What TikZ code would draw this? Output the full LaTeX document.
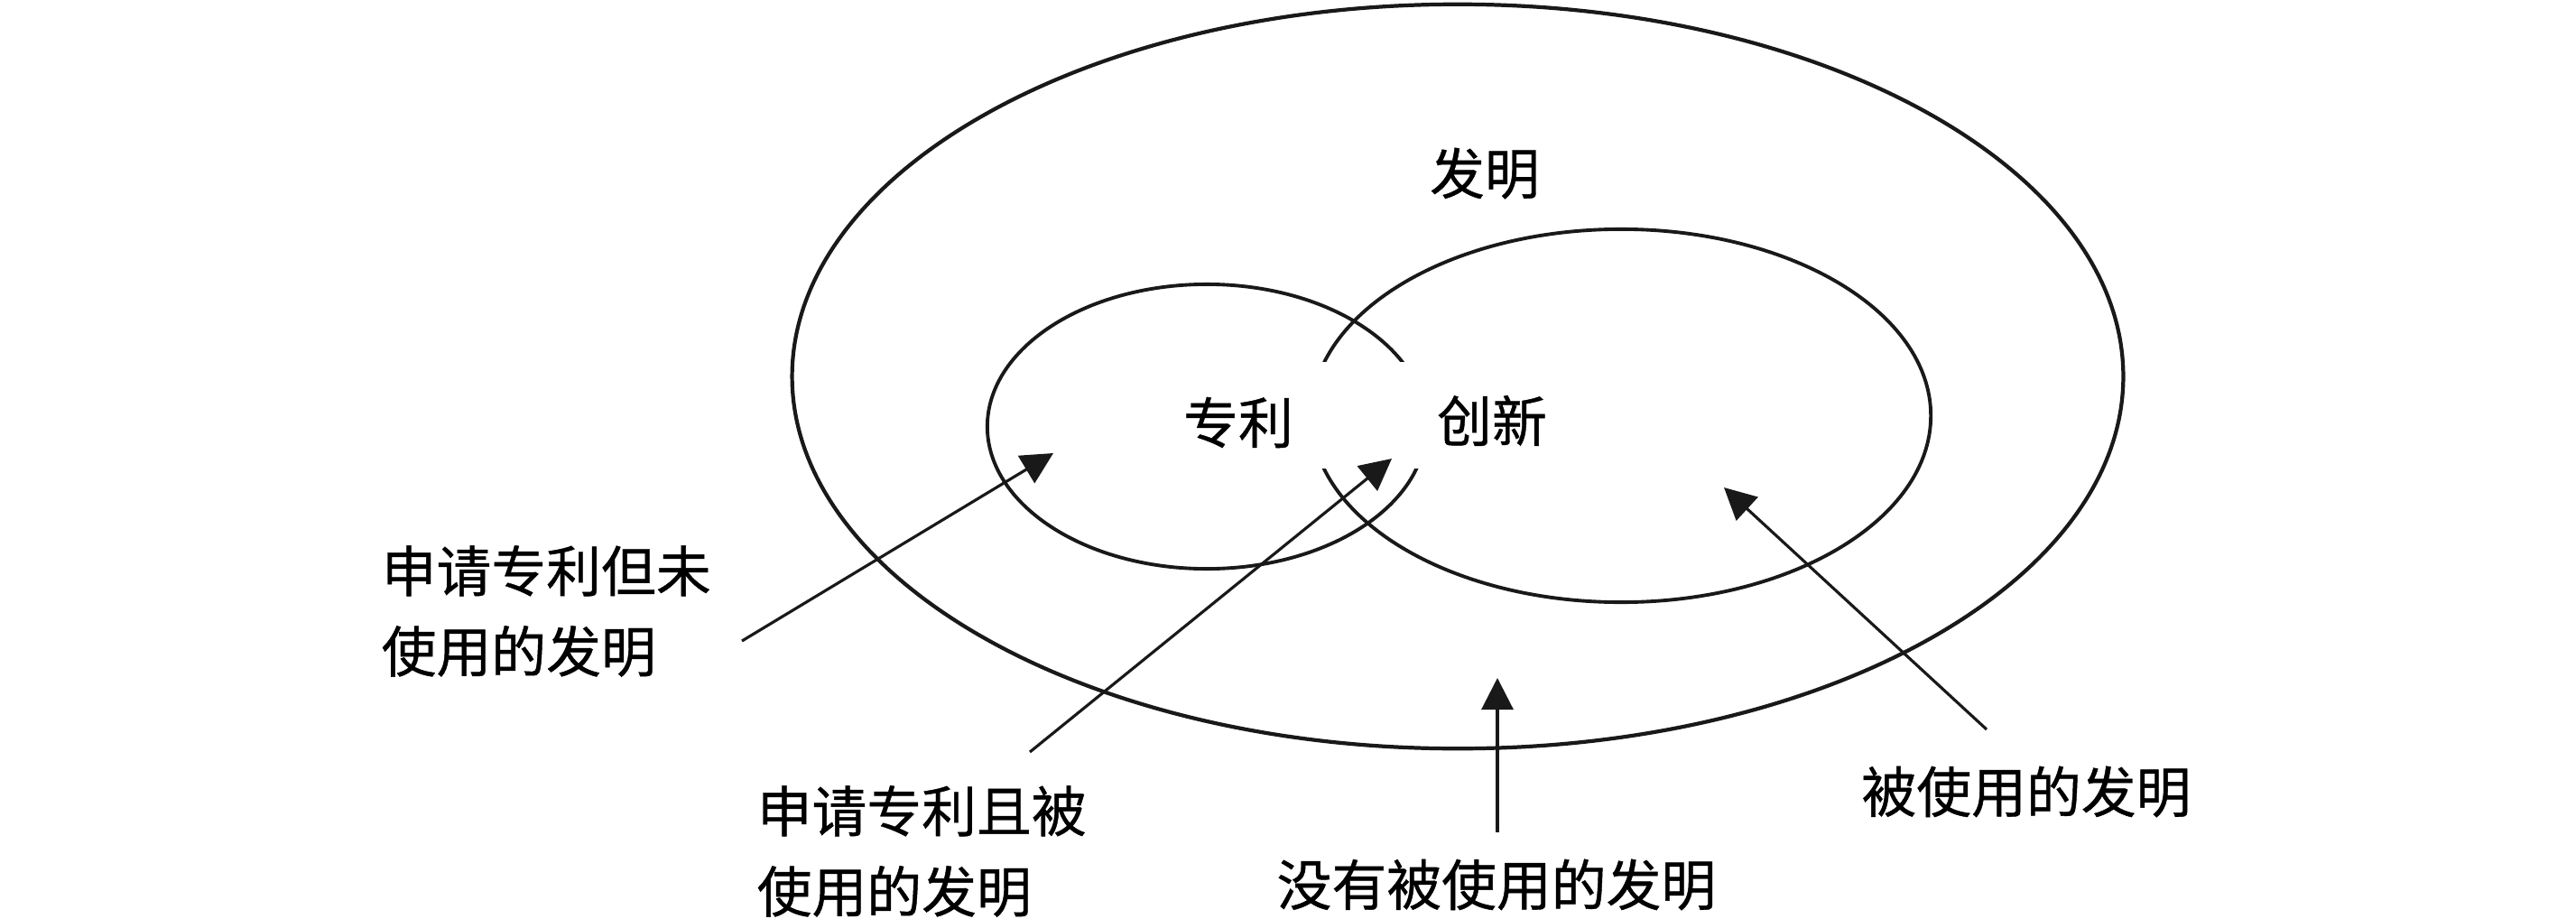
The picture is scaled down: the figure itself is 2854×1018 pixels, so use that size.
\documentclass[tikz,border=0pt]{standalone}
\usepackage{fontspec}
\newfontfamily\cjk[FakeBold=0.7]{Noto Sans CJK SC}
\usetikzlibrary{arrows.meta}
\begin{document}
\begin{tikzpicture}[x=0.01cm,y=-0.01cm,
  lbl/.style={font=\cjk\fontsize{17.3}{25.3}\selectfont, inner sep=0pt, align=left},
  ring/.style={line width=1.1pt, draw=black!90},
  pointer/.style={line width=0.9pt, draw=black!90, -{Triangle[length=3.5mm,width=3.5mm]}}]
\useasboundingbox (0,0) rectangle (2854,1018);
% sets
\draw[ring, line width=1.2pt] (1615,417) ellipse [x radius=7.37cm, y radius=4.12cm];
\draw[ring] (1337,472.5) ellipse [x radius=2.43cm, y radius=1.575cm];
\draw[ring] (1796,460.5) ellipse [x radius=3.43cm, y radius=2.065cm];
\fill[white] (1448,401) rectangle (1590,519);
% labels
\node[lbl] (inv) at (1645,192) {发明};
\node[lbl] (pat) at (1372,468) {专利};
\node[lbl] (inn) at (1653,466) {创新};
\node[lbl, anchor=west] (l1) at (422,677) {申请专利但未\\使用的发明};
\node[lbl, anchor=west] (l2) at (838,943) {申请专利且被\\使用的发明};
\node[lbl] (l3) at (1658,980) {没有被使用的发明};
\node[lbl] (l4) at (2245,877) {被使用的发明};
% arrow ends
\coordinate (s1) at (822,710);
\coordinate (t1) at (1167,502);
\coordinate (s2) at (1141,833);
\coordinate (t2) at (1542,508);
\coordinate (s3) at (1659,922);
\coordinate (t3) at (1659,751);
\coordinate (s4) at (2201,808);
\coordinate (t4) at (1910,540);
\draw[pointer] (s1) -- (t1);
\draw[pointer] (s2) -- (t2);
\draw[pointer] (s3) -- (t3);
\draw[pointer] (s4) -- (t4);
\end{tikzpicture}
\end{document}
